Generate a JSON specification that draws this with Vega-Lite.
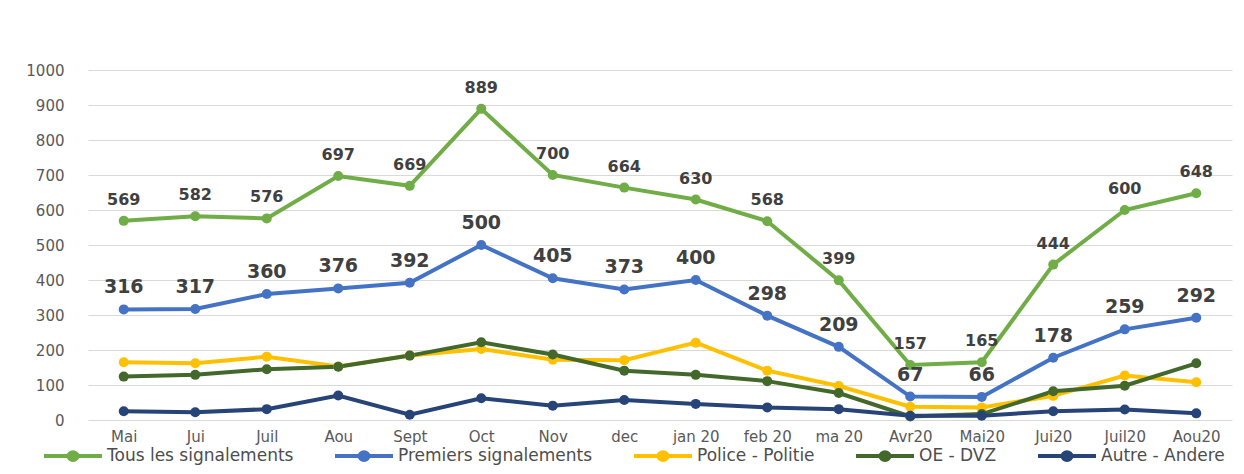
{
  "$schema": "https://vega.github.io/schema/vega-lite/v6.json",
  "autosize": {"type": "none"},
  "width": 1144,
  "height": 350,
  "padding": {"left": 88, "top": 70, "right": 12, "bottom": 54},
  "background": "#ffffff",
  "config": {
    "view": {"stroke": null},
    "font": "DejaVu Sans"
  },
  "datasets": {
    "d": [
      {"m": "Mai", "s": "Tous les signalements", "v": 569},
      {"m": "Jui", "s": "Tous les signalements", "v": 582},
      {"m": "Juil", "s": "Tous les signalements", "v": 576},
      {"m": "Aou", "s": "Tous les signalements", "v": 697},
      {"m": "Sept", "s": "Tous les signalements", "v": 669},
      {"m": "Oct", "s": "Tous les signalements", "v": 889},
      {"m": "Nov", "s": "Tous les signalements", "v": 700},
      {"m": "dec", "s": "Tous les signalements", "v": 664},
      {"m": "jan 20", "s": "Tous les signalements", "v": 630},
      {"m": "feb 20", "s": "Tous les signalements", "v": 568},
      {"m": "ma 20", "s": "Tous les signalements", "v": 399},
      {"m": "Avr20", "s": "Tous les signalements", "v": 157},
      {"m": "Mai20", "s": "Tous les signalements", "v": 165},
      {"m": "Jui20", "s": "Tous les signalements", "v": 444},
      {"m": "Juil20", "s": "Tous les signalements", "v": 600},
      {"m": "Aou20", "s": "Tous les signalements", "v": 648},
      {"m": "Mai", "s": "Premiers signalements", "v": 316},
      {"m": "Jui", "s": "Premiers signalements", "v": 317},
      {"m": "Juil", "s": "Premiers signalements", "v": 360},
      {"m": "Aou", "s": "Premiers signalements", "v": 376},
      {"m": "Sept", "s": "Premiers signalements", "v": 392},
      {"m": "Oct", "s": "Premiers signalements", "v": 500},
      {"m": "Nov", "s": "Premiers signalements", "v": 405},
      {"m": "dec", "s": "Premiers signalements", "v": 373},
      {"m": "jan 20", "s": "Premiers signalements", "v": 400},
      {"m": "feb 20", "s": "Premiers signalements", "v": 298},
      {"m": "ma 20", "s": "Premiers signalements", "v": 209},
      {"m": "Avr20", "s": "Premiers signalements", "v": 67},
      {"m": "Mai20", "s": "Premiers signalements", "v": 66},
      {"m": "Jui20", "s": "Premiers signalements", "v": 178},
      {"m": "Juil20", "s": "Premiers signalements", "v": 259},
      {"m": "Aou20", "s": "Premiers signalements", "v": 292},
      {"m": "Mai", "s": "Police - Politie", "v": 165},
      {"m": "Jui", "s": "Police - Politie", "v": 162},
      {"m": "Juil", "s": "Police - Politie", "v": 181},
      {"m": "Aou", "s": "Police - Politie", "v": 153},
      {"m": "Sept", "s": "Police - Politie", "v": 184},
      {"m": "Oct", "s": "Police - Politie", "v": 203},
      {"m": "Nov", "s": "Police - Politie", "v": 172},
      {"m": "dec", "s": "Police - Politie", "v": 171},
      {"m": "jan 20", "s": "Police - Politie", "v": 221},
      {"m": "feb 20", "s": "Police - Politie", "v": 141},
      {"m": "ma 20", "s": "Police - Politie", "v": 97},
      {"m": "Avr20", "s": "Police - Politie", "v": 38},
      {"m": "Mai20", "s": "Police - Politie", "v": 36},
      {"m": "Jui20", "s": "Police - Politie", "v": 69},
      {"m": "Juil20", "s": "Police - Politie", "v": 127},
      {"m": "Aou20", "s": "Police - Politie", "v": 108},
      {"m": "Mai", "s": "OE - DVZ", "v": 124},
      {"m": "Jui", "s": "OE - DVZ", "v": 129},
      {"m": "Juil", "s": "OE - DVZ", "v": 145},
      {"m": "Aou", "s": "OE - DVZ", "v": 152},
      {"m": "Sept", "s": "OE - DVZ", "v": 184},
      {"m": "Oct", "s": "OE - DVZ", "v": 222},
      {"m": "Nov", "s": "OE - DVZ", "v": 187},
      {"m": "dec", "s": "OE - DVZ", "v": 141},
      {"m": "jan 20", "s": "OE - DVZ", "v": 129},
      {"m": "feb 20", "s": "OE - DVZ", "v": 111},
      {"m": "ma 20", "s": "OE - DVZ", "v": 77},
      {"m": "Avr20", "s": "OE - DVZ", "v": 10},
      {"m": "Mai20", "s": "OE - DVZ", "v": 17},
      {"m": "Jui20", "s": "OE - DVZ", "v": 82},
      {"m": "Juil20", "s": "OE - DVZ", "v": 98},
      {"m": "Aou20", "s": "OE - DVZ", "v": 162},
      {"m": "Mai", "s": "Autre - Andere", "v": 25},
      {"m": "Jui", "s": "Autre - Andere", "v": 22},
      {"m": "Juil", "s": "Autre - Andere", "v": 31},
      {"m": "Aou", "s": "Autre - Andere", "v": 70},
      {"m": "Sept", "s": "Autre - Andere", "v": 15},
      {"m": "Oct", "s": "Autre - Andere", "v": 62},
      {"m": "Nov", "s": "Autre - Andere", "v": 41},
      {"m": "dec", "s": "Autre - Andere", "v": 57},
      {"m": "jan 20", "s": "Autre - Andere", "v": 46},
      {"m": "feb 20", "s": "Autre - Andere", "v": 36},
      {"m": "ma 20", "s": "Autre - Andere", "v": 31},
      {"m": "Avr20", "s": "Autre - Andere", "v": 12},
      {"m": "Mai20", "s": "Autre - Andere", "v": 12},
      {"m": "Jui20", "s": "Autre - Andere", "v": 25},
      {"m": "Juil20", "s": "Autre - Andere", "v": 30},
      {"m": "Aou20", "s": "Autre - Andere", "v": 19}
    ]
  },
  "data": {"name": "d"},
  "encoding": {
    "x": {
      "field": "m",
      "type": "nominal",
      "sort": null,
      "scale": {"type": "point", "padding": 0.5},
      "axis": {
        "title": null,
        "labelAngle": 0,
        "grid": false,
        "domain": false,
        "ticks": false,
        "labelPadding": 9,
        "labelFont": "DejaVu Sans",
        "labelFontSize": 15,
        "labelColor": "#595959"
      }
    },
    "y": {
      "field": "v",
      "type": "quantitative",
      "scale": {"domain": [0, 1000], "nice": false},
      "axis": {
        "title": null,
        "format": "d",
        "values": [0, 100, 200, 300, 400, 500, 600, 700, 800, 900, 1000],
        "grid": true,
        "gridColor": "#d9d9d9",
        "gridWidth": 1,
        "domain": false,
        "ticks": false,
        "labelPadding": 24,
        "labelFont": "DejaVu Sans",
        "labelFontSize": 15,
        "labelColor": "#595959"
      }
    }
  },
  "layer": [
    {
      "mark": {"type": "line", "strokeWidth": 4},
      "encoding": {
        "color": {
          "field": "s",
          "type": "nominal",
          "sort": null,
          "scale": {
            "domain": ["Tous les signalements", "Premiers signalements", "Police - Politie", "OE - DVZ", "Autre - Andere"],
            "range": ["#70AD47", "#4472C4", "#FFC000", "#43682B", "#264478"]
          },
          "legend": {
            "title": null,
            "orient": "none",
            "legendX": -46,
            "legendY": 355,
            "direction": "horizontal",
            "columns": 5,
            "symbolType": "M-1,0L1,0M0.16,0A0.16,0.13,0,1,1,-0.16,0A0.16,0.13,0,1,1,0.16,0Z",
            "symbolSize": 3364,
            "symbolStrokeWidth": 4,
            "symbolOpacity": 1,
            "labelOffset": 3,
            "columnPadding": 33,
            "labelFont": "DejaVu Sans",
            "labelFontSize": 17,
            "labelColor": "#4d4d4d",
            "labelLimit": 400,
            "encode": {
              "symbols": {
                "update": {
                  "fill": {"scale": "color", "field": "value"},
                  "stroke": {"scale": "color", "field": "value"}
                }
              }
            }
          }
        }
      }
    },
    {
      "mark": {"type": "point", "filled": true, "size": 100, "opacity": 1, "shape": "circle"},
      "encoding": {
        "color": {"field": "s", "type": "nominal", "sort": null}
      }
    },
    {
      "transform": [{"filter": "datum.s === 'Tous les signalements'"}],
      "mark": {"type": "text", "dy": -21, "baseline": "middle", "align": "center", "font": "DejaVu Sans", "fontSize": 16, "fontWeight": "bold", "color": "#404040"},
      "encoding": {"text": {"field": "v", "type": "quantitative"}}
    },
    {
      "transform": [{"filter": "datum.s === 'Premiers signalements'"}],
      "mark": {"type": "text", "dy": -22, "baseline": "middle", "align": "center", "font": "DejaVu Sans", "fontSize": 19, "fontWeight": "bold", "color": "#404040"},
      "encoding": {"text": {"field": "v", "type": "quantitative"}}
    }
  ]
}
